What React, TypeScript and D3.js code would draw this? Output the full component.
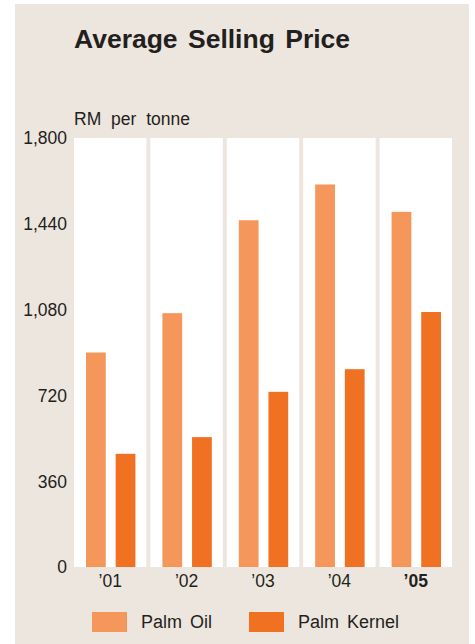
import React from "react";
import * as d3 from "d3";

const years = ["'01", "'02", "'03", "'04", "'05"];
const yearLabels = ["\u201901", "\u201902", "\u201903", "\u201904", "\u201905"];
const palmOil = [900, 1065, 1455, 1605, 1490];
const palmKernel = [475, 545, 735, 830, 1070];
const yTicks = [0, 360, 720, 1080, 1440, 1800];
const seriesNames = ["Palm Oil", "Palm Kernel"];
const seriesColors = ["#F5975A", "#F17122"];

const W = 475;
const H = 644;
const font = "'Liberation Sans', Arial, Helvetica, sans-serif";
const textColor = "#231F20";

export default function App() {
  const x = d3.scaleBand<string>().domain(years).range([74, 452]).paddingInner(0.052).paddingOuter(0);
  const bw = x.bandwidth();
  const inner = d3
    .scaleBand<string>()
    .domain(seriesNames)
    .range([12, bw - 11])
    .paddingInner(1 / 3)
    .paddingOuter(0);
  const y = d3.scaleLinear().domain([0, 1800]).range([567, 138]);
  const fmt = d3.format(",");
  const series = [palmOil, palmKernel];

  return (
    <div style={{ position: "absolute", left: 0, top: 0 }}>
      <svg width={W} height={H} style={{ display: "block" }}>
        <rect x={15} y={4} width={454} height={H - 4} fill="#EDE6DF" />
        <text x={74} y={48} fontFamily={font} fontWeight="bold" fontSize={26.5} fill={textColor} wordSpacing={3}>
          Average Selling Price
        </text>
        <text x={74} y={125} fontFamily={font} fontSize={17.5} fill={textColor} wordSpacing={5}>
          RM per tonne
        </text>
        {years.map((yr) => (
          <rect key={"p" + yr} x={x(yr)} y={y(1800)} width={bw} height={y(0) - y(1800)} fill="#FFFFFF" />
        ))}
        {years.map((yr, i) =>
          series.map((s, j) => (
            <rect
              key={yr + j}
              x={(x(yr) as number) + (inner(seriesNames[j]) as number)}
              y={y(s[i])}
              width={inner.bandwidth()}
              height={y(0) - y(s[i])}
              fill={seriesColors[j]}
            />
          ))
        )}
        {yTicks.map((t) => (
          <text
            key={"t" + t}
            x={67}
            y={y(t)}
            dy="0.36em"
            textAnchor="end"
            fontFamily={font}
            fontSize={17.5}
            fill={textColor}
          >
            {fmt(t)}
          </text>
        ))}
        {years.map((yr, i) => (
          <text
            key={"l" + yr}
            x={(x(yr) as number) + bw / 2}
            y={587}
            textAnchor="middle"
            fontFamily={font}
            fontSize={17.5}
            fontWeight={i === years.length - 1 ? "bold" : "normal"}
            fill={textColor}
          >
            {yearLabels[i]}
          </text>
        ))}
        {seriesNames.map((n, j) => {
          const lx = j === 0 ? 92 : 249;
          return (
            <g key={"lg" + n}>
              <rect x={lx} y={612} width={35} height={20} fill={seriesColors[j]} />
              <text x={lx + 49} y={628} fontFamily={font} fontSize={18} fill={textColor} wordSpacing={3}>
                {n}
              </text>
            </g>
          );
        })}
      </svg>
    </div>
  );
}
